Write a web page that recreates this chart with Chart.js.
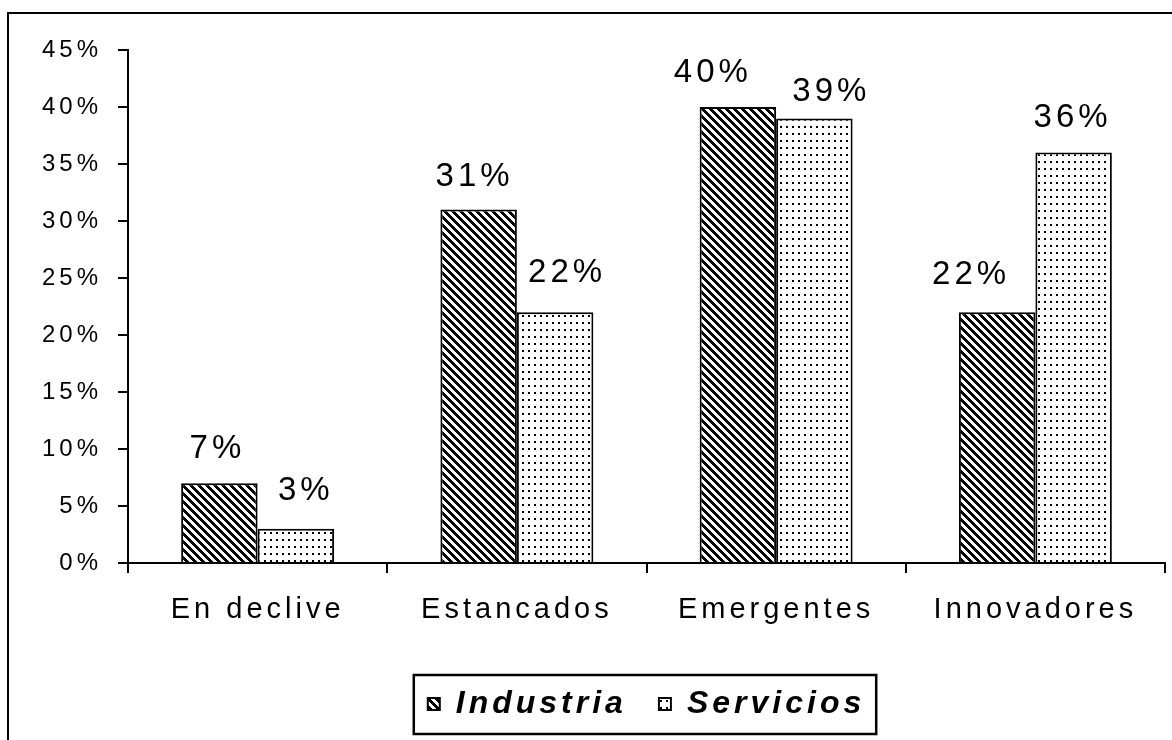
<!DOCTYPE html>
<html>
<head>
<meta charset="utf-8">
<script src="https://cdn.jsdelivr.net/npm/chart.js@4.4.0/dist/chart.umd.min.js"></script>
<style>
html, body { margin: 0; padding: 0; background: #fff; overflow: hidden; }
#frame { position: absolute; left: 7px; top: 12px; width: 1300px; height: 900px; border-left: 2px solid #000; border-top: 2px solid #000; }
#wrap { position: absolute; left: 0; top: 0; width: 1172px; height: 740px; }
</style>
</head>
<body>
<div id="frame"></div>
<div id="wrap"><canvas id="barChart"></canvas></div>
<script>
var categories = ['En declive', 'Estancados', 'Emergentes', 'Innovadores'];
var industria = [7, 31, 40, 22];
var servicios = [3, 22, 39, 36];
var yTickLabels = ['0%', '5%', '10%', '15%', '20%', '25%', '30%', '35%', '40%', '45%'];

// hand placement of the value labels (per dataset, per category), as in the original
var labelNudgeX = [[-2, -4, -25, -26], [10, 12, 17, -1]];
var labelGap = [[25, 24, 25, 28], [29, 30, 17, 26]];

var FONT = '"Liberation Sans", Arial, sans-serif';

// small black & white fill patterns, built pixel by pixel
function makePattern(w, h, isInk) {
    var c = document.createElement('canvas');
    c.width = w; c.height = h;
    var g = c.getContext('2d');
    var img = g.createImageData(w, h);
    for (var y = 0; y < h; y++) {
        for (var x = 0; x < w; x++) {
            var v = isInk(x, y) ? 0 : 255;
            var k = (y * w + x) * 4;
            img.data[k] = v; img.data[k + 1] = v; img.data[k + 2] = v; img.data[k + 3] = 255;
        }
    }
    g.putImageData(img, 0, 0);
    return g.createPattern(c, 'repeat');
}
var hatch = makePattern(8, 8, function (x, y) { return ((x - y + 16) % 8) < 4; });
var dots = makePattern(6, 7, function (x, y) { return x < 2 && y < 2; });

var spacing = {
    id: 'spacing',
    beforeLayout: function (chart) { chart.ctx.letterSpacing = '4px'; },
    beforeDraw: function (chart) { chart.ctx.letterSpacing = '4px'; }
};

var valueLabels = {
    id: 'valueLabels',
    afterDatasetsDraw: function (chart) {
        var ctx = chart.ctx;
        ctx.save();
        ctx.font = '33px ' + FONT;
        ctx.fillStyle = '#000';
        ctx.textAlign = 'center';
        ctx.textBaseline = 'alphabetic';
        chart.data.datasets.forEach(function (ds, i) {
            chart.getDatasetMeta(i).data.forEach(function (bar, j) {
                ctx.fillText(ds.data[j] + '%', bar.x + labelNudgeX[i][j], bar.y - labelGap[i][j]);
            });
        });
        ctx.restore();
    }
};

var legendFrame = {
    id: 'legendFrame',
    afterDraw: function (chart) {
        var boxes = chart.legend.legendHitBoxes;
        if (!boxes || !boxes.length) return;
        var first = boxes[0], last = boxes[boxes.length - 1];
        var cy = first.top + first.height / 2;
        var left = first.left - 14;
        var right = last.left + last.width + 11;
        var ctx = chart.ctx;
        ctx.save();
        ctx.strokeStyle = '#000';
        ctx.lineWidth = 2.5;
        ctx.strokeRect(left, cy - 29, right - left, 59);
        ctx.restore();
    }
};

var ctx = document.getElementById('barChart').getContext('2d');

var myChart = new Chart(ctx, {
    type: 'bar',
    data: {
        labels: categories,
        datasets: [{
            label: 'Industria',
            data: industria,
            backgroundColor: hatch,
            borderColor: '#000',
            borderWidth: 2
        }, {
            label: 'Servicios',
            data: servicios,
            backgroundColor: dots,
            borderColor: '#000',
            borderWidth: 2
        }]
    },
    options: {
        responsive: true,
        maintainAspectRatio: false,
        animation: false,
        categoryPercentage: 0.59,
        barPercentage: 1,
        layout: { padding: { left: 0, right: 7, top: 50, bottom: 10 } },
        plugins: {
            legend: {
                position: 'bottom',
                fullSize: false,
                labels: {
                    boxWidth: 12,
                    boxHeight: 12,
                    padding: 32,
                    color: '#000',
                    font: { family: FONT, size: 32, weight: 'bold', style: 'italic' },
                    generateLabels: function (chart) {
                        var items = Chart.defaults.plugins.legend.labels.generateLabels(chart);
                        items.forEach(function (it) { it.lineWidth = 2; });
                        return items;
                    }
                }
            },
            tooltip: { enabled: false }
        },
        scales: {
            x: {
                grid: { offset: true, drawOnChartArea: false, color: '#000', lineWidth: 2, tickLength: 10 },
                border: { color: '#000', width: 2 },
                ticks: { color: '#000', padding: 20, font: { family: FONT, size: 29 } },
                afterFit: function (s) { s.height = 93; }
            },
            y: {
                min: 0,
                max: 45,
                grid: { drawOnChartArea: false, color: '#000', lineWidth: 2, tickLength: 10 },
                border: { color: '#000', width: 2 },
                ticks: {
                    stepSize: 5,
                    color: '#000',
                    padding: 16,
                    font: { family: FONT, size: 24 },
                    callback: function (v, i) { return yTickLabels[i]; }
                },
                afterFit: function (s) { s.width = 128; }
            }
        }
    },
    plugins: [spacing, valueLabels, legendFrame]
});
</script>
</body>
</html>
